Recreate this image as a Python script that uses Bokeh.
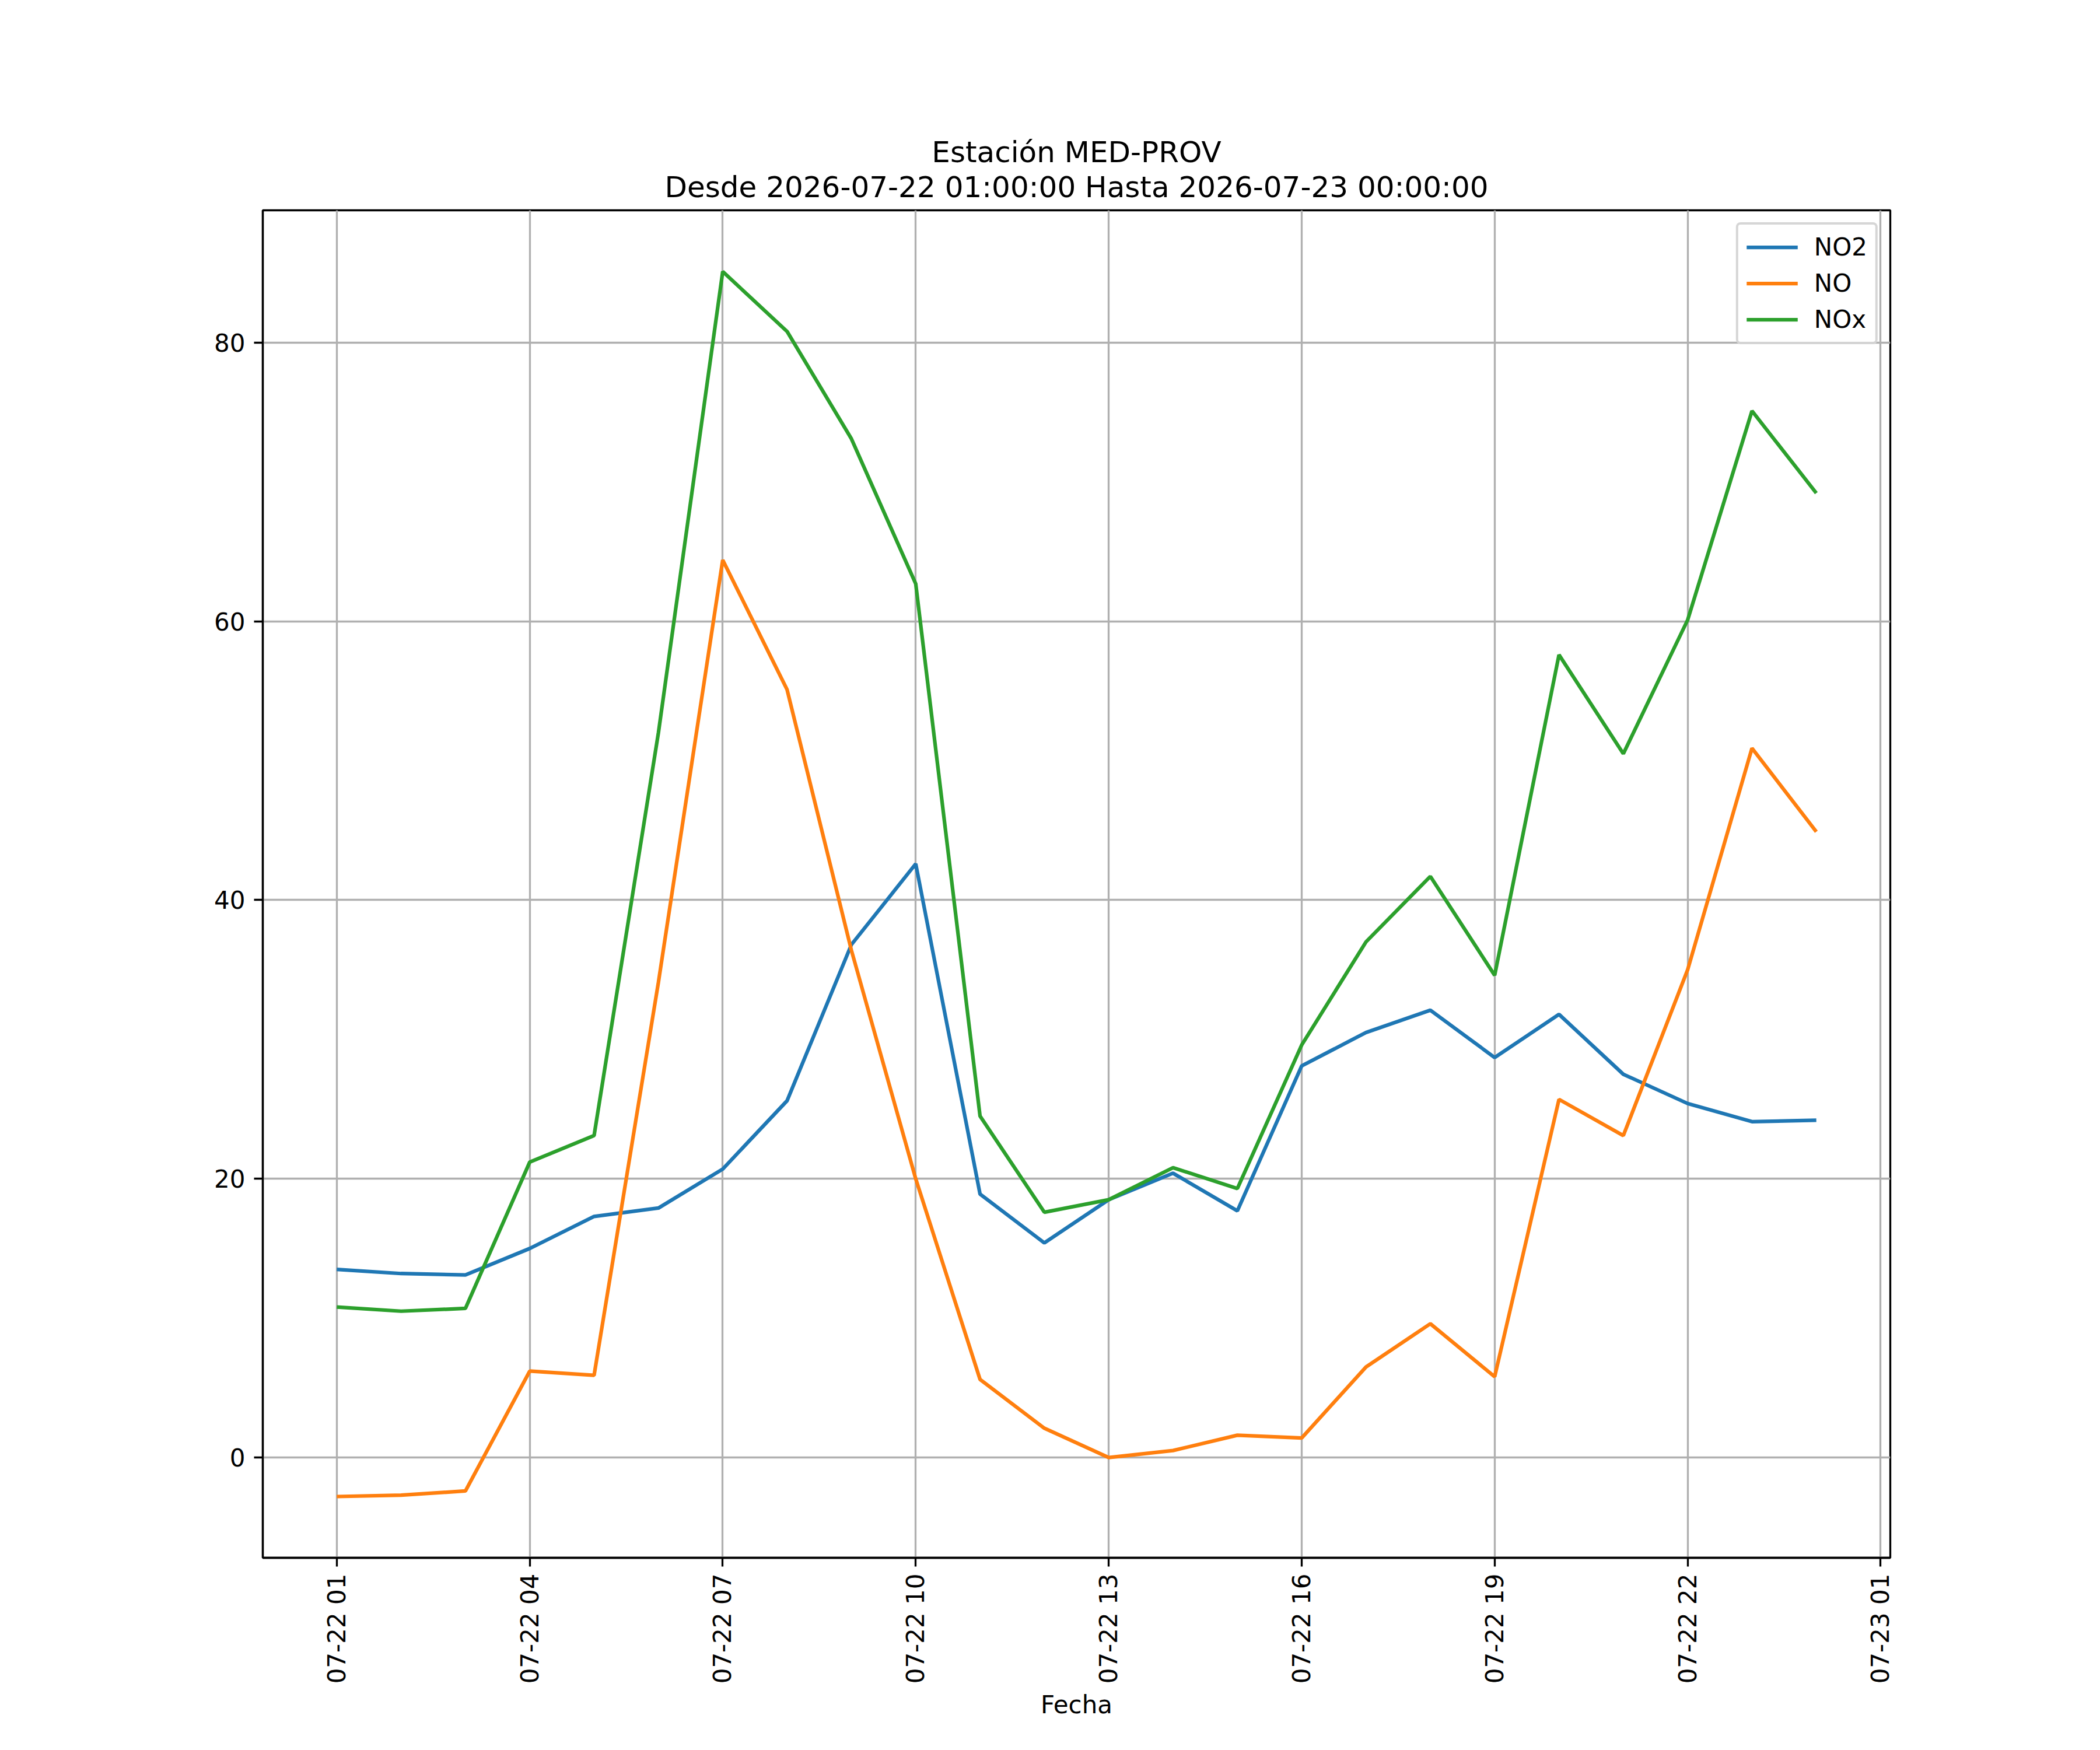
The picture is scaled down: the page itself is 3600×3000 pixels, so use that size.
import math
import pandas as pd
from bokeh.plotting import figure
from bokeh.models import Range1d, FixedTicker, DatetimeTickFormatter, Title, ColumnDataSource, Legend
from bokeh.embed import file_html
from bokeh.resources import INLINE

# ---- data ----
station = "MED-PROV"
desde = "2026-07-22 01:00:00"
hasta = "2026-07-23 00:00:00"
times = pd.date_range("2026-07-22 01:00", periods=24, freq="h")
no2 = [13.5, 13.2, 13.1, 15.0, 17.3, 17.9, 20.7, 25.6, 36.8, 42.6, 18.9, 15.4,
       18.5, 20.4, 17.7, 28.1, 30.5, 32.1, 28.7, 31.8, 27.5, 25.4, 24.1, 24.2]
no = [-2.8, -2.7, -2.4, 6.2, 5.9, 34.1, 64.4, 55.1, 36.4, 20.0, 5.6, 2.1,
      0.0, 0.5, 1.6, 1.4, 6.5, 9.6, 5.8, 25.7, 23.1, 35.0, 50.9, 44.9]
nox = [10.8, 10.5, 10.7, 21.2, 23.1, 52.0, 85.1, 80.8, 73.1, 62.7, 24.5, 17.6,
       18.5, 20.8, 19.3, 29.6, 37.0, 41.7, 34.6, 57.6, 50.5, 60.1, 75.1, 69.2]
series_names = ["NO2", "NO", "NOx"]
colors = ["#1f77b4", "#ff7f0e", "#2ca02c"]
y_ticks = [0, 20, 40, 60, 80]
x_ticks = pd.date_range("2026-07-22 01:00", "2026-07-23 01:00", freq="3h")

HOUR = 3600 * 1000.0
def ms(t):
    return t.value / 1e6

src = ColumnDataSource(dict(t=times, no2=no2, no=no, nox=nox))

x0 = ms(times[0]) - 1.15 * HOUR
x1 = ms(times[-1]) + 1.15 * HOUR
ymin = min(no) - 0.05 * (max(nox) - min(no))
ymax = max(nox) + 0.05 * (max(nox) - min(no))

FONT = "DejaVu Sans"
p = figure(width=3584, height=2984, x_axis_type="datetime", title=None,
           output_backend="svg", toolbar_location=None,
           x_range=Range1d(x0, x1), y_range=Range1d(ymin, ymax),
           min_border_left=450, min_border_right=344,
           min_border_top=360, min_border_bottom=314)
p.background_fill_color = "white"
p.border_fill_color = "white"
p.outline_line_color = "black"
p.outline_line_width = 3.3

for col, name, c in zip(["no2", "no", "nox"], series_names, colors):
    p.line("t", col, source=src, line_color=c, line_width=6.25, legend_label=name)

# titles
t2 = Title(text=f"Desde {desde} Hasta {hasta}", align="center",
           text_font=FONT, text_font_size="50px", text_font_style="normal",
           text_color="black", standoff=21)
t1 = Title(text=f"Estación {station}", align="center",
           text_font=FONT, text_font_size="50px", text_font_style="normal",
           text_color="black", standoff=-21)
p.add_layout(t2, "above")
p.add_layout(t1, "above")

# axes
fmt = "%m-%d %H"
fkw = dict(microseconds=fmt, milliseconds=fmt, seconds=fmt, minsec=fmt, minutes=fmt,
           hourmin=fmt, hours=fmt, days=fmt, months=fmt, years=fmt)
if "strip_leading_zeros" in DatetimeTickFormatter.properties():
    fkw["strip_leading_zeros"] = False
p.xaxis.formatter = DatetimeTickFormatter(**fkw)
p.xaxis.ticker = FixedTicker(ticks=[ms(t) for t in x_ticks])
p.xaxis.major_label_orientation = math.pi / 2
p.yaxis.ticker = FixedTicker(ticks=y_ticks)
p.xaxis.axis_label = "Fecha"

for ax in (p.xaxis, p.yaxis):
    ax.axis_line_color = "black"
    ax.axis_line_width = 3.3
    ax.major_tick_line_color = "black"
    ax.major_tick_line_width = 3.3
    ax.major_tick_out = 15
    ax.major_tick_in = 0
    ax.minor_tick_line_color = None
    ax.major_label_standoff = 15
    ax.major_label_text_font = FONT
    ax.major_label_text_font_size = "42px"
    ax.major_label_text_color = "black"
    ax.axis_label_text_font = FONT
    ax.axis_label_text_font_size = "42px"
    ax.axis_label_text_font_style = "normal"
    ax.axis_label_text_color = "black"
p.xaxis.major_label_standoff = 12
p.xaxis.axis_label_standoff = 9

p.grid.grid_line_color = "#b0b0b0"
p.grid.grid_line_width = 3.3
p.xgrid.ticker = p.xaxis.ticker
p.ygrid.ticker = p.yaxis.ticker

lg = p.legend[0]
lg.location = "top_right"
lg.margin = 21
lg.padding = 14
lg.spacing = 13
lg.glyph_width = 88
lg.glyph_height = 41
lg.label_height = 41
lg.label_standoff = 28
lg.label_text_font = FONT
lg.label_text_font_size = "42px"
lg.label_text_color = "black"
lg.border_line_color = "#cccccc"
lg.border_line_alpha = 0.8
lg.border_line_width = 4
lg.background_fill_color = "white"
lg.background_fill_alpha = 0.8
if "border_radius" in Legend.properties():
    lg.border_radius = 8

open("out.html", "w").write(file_html(p, INLINE))
